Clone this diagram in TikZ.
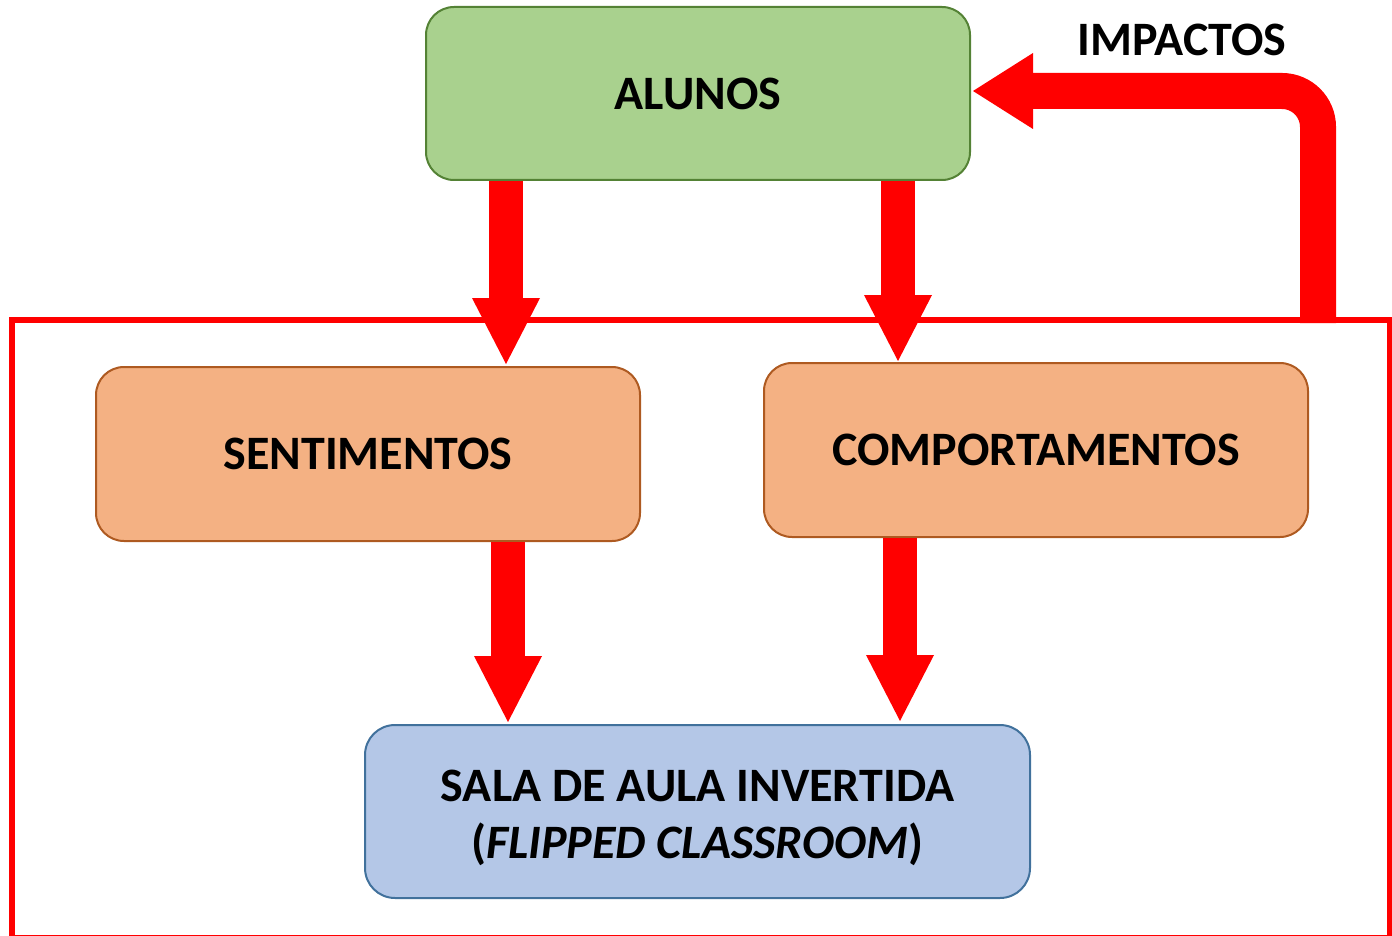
\documentclass[tikz,border=0pt]{standalone}
\usepackage{fontspec}
\setmainfont{Carlito}
\usetikzlibrary{arrows.meta,calc}
\definecolor{arrred}{HTML}{FF0000}
\definecolor{gfill}{HTML}{A9D18E}
\definecolor{gline}{HTML}{548235}
\definecolor{ofill}{HTML}{F4B183}
\definecolor{oline}{HTML}{AE5A21}
\definecolor{bfill}{HTML}{B4C7E7}
\definecolor{bline}{HTML}{41719C}
\tikzset{
  box/.style={rounded corners=28pt, line width=2pt, inner sep=0pt,
    font=\fontsize{48}{57}\selectfont\bfseries, align=center},
  blockarrow/.style={draw=arrred, line width=34pt,
    -{Triangle[length=66pt,width=68pt,line width=0pt]}},
}
\begin{document}
\begin{tikzpicture}[x=1pt,y=-1pt]
\useasboundingbox (0,0) rectangle (1392,936);
% frame
\draw[arrred, line width=6pt] (12,320) -- (1390,320) -- (1390,938) -- (12,938) -- cycle;
% boxes
\node[box, fill=gfill, draw=gline, minimum width=544pt, minimum height=173pt] (alunos) at (698,93.5) {ALUNOS};
\node[box, fill=ofill, draw=oline, minimum width=544pt, minimum height=174pt] (sent) at (368,454) {SENTIMENTOS};
\node[box, fill=ofill, draw=oline, minimum width=544pt, minimum height=174pt] (comp) at (1036,450) {COMPORTAMENTOS};
\node[box, fill=bfill, draw=bline, minimum width=665pt, minimum height=173pt, rounded corners=30pt] (sala) at (697.5,811.5)
  {\raisebox{0pt}[\height][\dimexpr\depth-14pt\relax]{\begin{tabular}{@{}c@{}}SALA DE AULA INVERTIDA\\(\textit{FLIPPED CLASSROOM})\end{tabular}}};
\node[font=\fontsize{48}{57}\selectfont\bfseries, inner sep=0pt] (imptext) at (1182,40) {IMPACTOS};
% arrows
\draw[blockarrow] ([xshift=-192pt]alunos.south) -- ([xshift=138pt,yshift=2pt]sent.north);
\draw[blockarrow] ([xshift=200pt]alunos.south) -- ([xshift=-138pt,yshift=1pt]comp.north);
\draw[blockarrow] ([xshift=140pt]sent.south) -- ([xshift=-189.5pt,yshift=2pt]sala.north);
\draw[blockarrow] ([xshift=-136pt]comp.south) -- ([xshift=202.5pt,yshift=3pt]sala.north);
\coordinate (impstart) at (1318,323);
\coordinate (impcorner) at (1318,91);
\draw[draw=arrred, line width=36pt, rounded corners=36pt,
  -{Triangle[length=60pt,width=76pt,line width=0pt]}]
  (impstart) -- (impcorner) -- ([xshift=2pt]alunos.east |- impcorner);
\end{tikzpicture}
\end{document}
